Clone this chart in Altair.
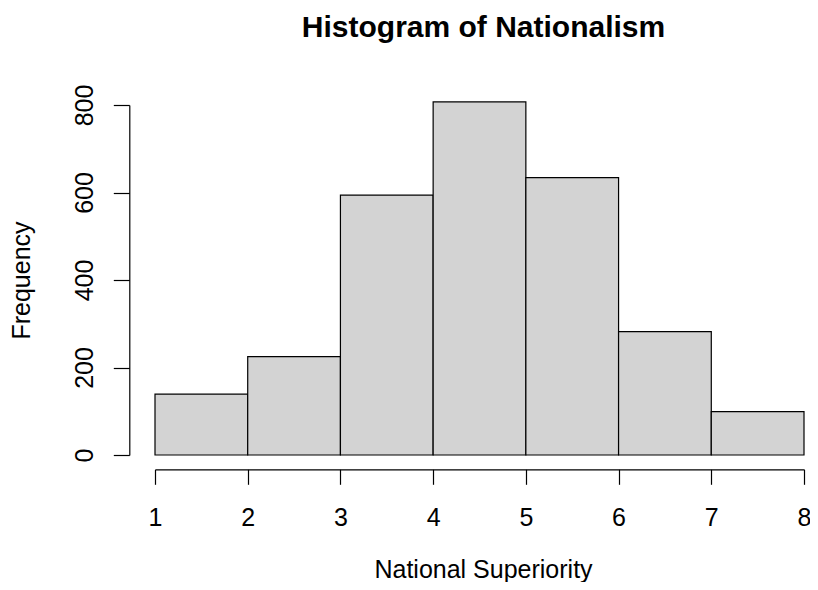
import altair as alt
import pandas as pd

bin_start = [1, 2, 3, 4, 5, 6, 7]
bin_end = [2, 3, 4, 5, 6, 7, 8]
counts = [139, 225, 594, 807, 634, 282, 99]
x_ticks = [1, 2, 3, 4, 5, 6, 7, 8]
y_ticks = [0, 200, 400, 600, 800]

df = pd.DataFrame({"start": bin_start, "end": bin_end, "count": counts})

FONT = "Liberation Sans"

chart = (
    alt.Chart(df)
    .mark_bar(fill="#D3D3D3", stroke="black", strokeWidth=1.2)
    .encode(
        x=alt.X(
            "start:Q",
            scale=alt.Scale(domain=[1, 8], nice=False, zero=False),
            axis=alt.Axis(
                values=x_ticks, format="d", title="National Superiority",
                offset=14.3, tickSize=15, labelPadding=40.7,
                labelBaseline="alphabetic", labelFlush=False, labelOverlap=False,
                titleX=328, titleY=108.5, titleAlign="center",
                titleBaseline="alphabetic",
            ),
        ),
        x2="end:Q",
        y=alt.Y(
            "count:Q",
            scale=alt.Scale(domain=[0, 800], nice=False),
            axis=alt.Axis(
                values=y_ticks, title="Frequency",
                offset=25.7, tickSize=16, labelAngle=270, labelAlign="center",
                labelBaseline="alphabetic", labelPadding=21, labelFlush=False,
                labelOverlap=False,
                titleAngle=270, titleX=-100, titleY=175, titleAlign="center",
                titleBaseline="alphabetic",
            ),
        ),
        y2=alt.datum(0),
    )
    .properties(
        width=649,
        height=350,
        autosize=alt.AutoSizeParams(type="none"),
        padding={"left": 147, "top": 97, "right": 6, "bottom": 127},
        title=alt.TitleParams(
            "Histogram of Nationalism", font=FONT, fontSize=30, fontWeight="bold",
            color="black", anchor="middle", offset=41, dx=4,
        ),
    )
    .configure_view(strokeWidth=0)
    .configure_axis(
        grid=False, domainColor="black", tickColor="black", domainWidth=1.2,
        tickWidth=1.2, labelColor="black", titleColor="black", labelFont=FONT,
        titleFont=FONT, labelFontSize=25, titleFontSize=25, titleFontWeight="normal",
    )
)

chart.save("out.html", embed_options={"renderer": "svg", "actions": False})
